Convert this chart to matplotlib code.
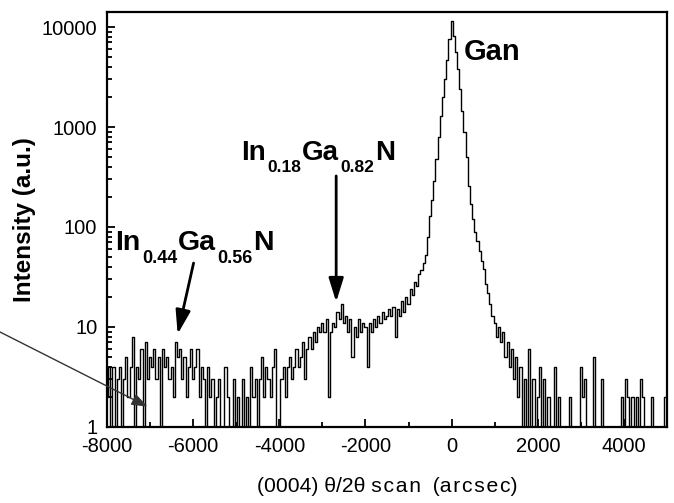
import numpy as np
import matplotlib
matplotlib.use("Agg")
import matplotlib.pyplot as plt
from matplotlib.ticker import FixedLocator, MultipleLocator, LogLocator, NullFormatter

plt.rcParams['font.family'] = ['Liberation Sans', 'DejaVu Sans']
plt.rcParams['axes.unicode_minus'] = False

# ---------------- data ----------------
scan_step = 50  # arcsec between points

far_left_start = -8000
far_left = [2, 4, 0, 4, 1, 3, 4, 0, 3, 5, 2, 4, 8, 1, 4, 3, 6, 0, 7, 3,
            5, 4, 6, 3, 5, 0, 6, 4, 5, 3, 4, 2, 7, 5, 6, 3, 5, 2, 4, 6]

dip_start = -6000
dip = [3, 4, 6, 2, 4, 3, 1, 4, 2, 3, 0, 2, 3, 1, 0, 4, 2, 1, 0, 3,
       1, 2, 0, 3, 1, 2, 0, 4, 2, 3, 1, 3, 5, 2, 4, 3, 2, 4, 6, 1]

rise_start = -4000
rise = [0, 3, 4, 2, 4, 5, 3, 4, 6, 4, 5, 7, 3, 6, 8, 6, 9, 7, 10, 9]

plateau_start = -3000
plateau = [11, 9, 12, 2, 9, 11, 10, 14, 12, 17, 11, 13, 9, 12, 5, 10, 8, 12,
           9, 11, 10, 4, 11, 9, 12, 10, 13, 11, 14, 12, 13, 15, 13, 16, 8, 15]

shoulder_start = -1200
shoulder = [13, 18, 14, 20, 17, 24, 21, 28, 26, 34, 37, 44]

peak_start = -600
peak = [52, 80, 130, 186, 290, 480, 800, 1300, 2000, 3000, 4700, 7500, 11500,
        8200, 5600, 3800, 2400, 1450, 900, 500, 260, 170, 120, 90, 72]

tail_start = 650
tail = [58, 46, 38, 27, 22, 17, 13, 11, 8, 10, 7, 9, 5, 7, 4, 6, 3, 5, 2, 4,
        1, 3, 0, 6, 1, 3, 0, 2, 4, 0, 3, 1, 2, 0, 0, 4, 0, 2, 0, 0,
        0, 0, 2, 0, 0, 0, 0, 4, 2, 3, 0, 0, 0, 5, 0, 0, 0, 3, 0, 0,
        0, 0, 0, 0, 0, 0, 2, 0, 3, 2, 0, 2, 0, 2, 0, 3, 2, 0, 0, 0,
        2, 0, 0, 0, 0, 0, 2, 2]

segments = [(far_left_start, far_left), (dip_start, dip), (rise_start, rise),
            (plateau_start, plateau), (shoulder_start, shoulder),
            (peak_start, peak), (tail_start, tail)]

x_ticks = [-8000, -6000, -4000, -2000, 0, 2000, 4000]
x_tick_labels = ['-8000', '-6000', '-4000', '-2000', '0', '2000', '4000']
y_ticks = [1, 10, 100, 1000, 10000]
y_tick_labels = ['1', '10', '100', '1000', '10000']

HS = '\u200a'
x_label = '(0004) θ/2θ ' + HS.join('scan') + '  (' + HS.join('arcsec') + ')'
y_label = 'Intensity (a.u.)'

# annotations: (parts, x, y)
gan_label = ('Gan', 286, 4680)
ingan18 = (['In', '0.18', 'Ga', '0.82', 'N'], -4877, 468)
ingan44 = (['In', '0.44', 'Ga', '0.56', 'N'], -7800, 59)
arrow18 = ((-2680, 324), (-2680, 17.8))
arrow44 = ((-5990, 43.6), (-6360, 8.5))
arrow_left_tip = (-7060, 1.6)

# ---------------- figure ----------------
W, H = 674, 503
fig = plt.figure(figsize=(W / 100, H / 100), dpi=100)
ax = fig.add_axes([107 / W, 1 - 427 / H, (667 - 107) / W, (427 - 12) / H])

xs = np.concatenate([s + scan_step * np.arange(len(v)) for s, v in segments])
ys = np.concatenate([np.asarray(v, dtype=float) for s, v in segments])

ax.plot(xs, ys, color='black', lw=1.0, drawstyle='steps-mid')
ax.set_yscale('log', nonpositive='clip')
ax.set_xlim(-8000, 5000)
ax.set_ylim(1, 10 ** 4.15)

ax.xaxis.set_major_locator(FixedLocator(x_ticks))
ax.set_xticklabels(x_tick_labels)
ax.xaxis.set_minor_locator(MultipleLocator(1000))
ax.yaxis.set_major_locator(FixedLocator(y_ticks))
ax.set_yticklabels(y_tick_labels)
ax.yaxis.set_minor_locator(LogLocator(base=10, subs=range(2, 10)))
ax.yaxis.set_minor_formatter(NullFormatter())

ax.tick_params(which='both', direction='in', top=False, right=False, width=1.3)
ax.tick_params(which='major', length=6, labelsize=14.5, pad=7)
ax.tick_params(which='minor', length=3.5)
for sp in ax.spines.values():
    sp.set_linewidth(1.6)

ax.set_xlabel(x_label, fontsize=15.2, labelpad=15)
ax.set_ylabel(y_label, fontsize=17.5, fontweight='bold', labelpad=4)

# Gan label
ax.text(gan_label[1], gan_label[2], gan_label[0], fontsize=21, fontweight='bold',
        ha='left', va='baseline')


def chem(parts, x, y, big=20, small=12.5, dy=4.5):
    first = ax.text(x, y, parts[0], fontsize=big, fontweight='bold',
                    ha='left', va='baseline')
    prev = first
    for i, p in enumerate(parts[1:], 1):
        if i % 2 == 1:
            prev = ax.annotate(p, xy=(1, 0), xycoords=(prev, first),
                               xytext=(1, dy), textcoords='offset points',
                               fontsize=small, fontweight='bold', va='top', ha='left')
        else:
            prev = ax.annotate(p, xy=(1, 0), xycoords=(prev, first),
                               xytext=(0.5, 0), textcoords='offset points',
                               fontsize=big, fontweight='bold', va='bottom', ha='left')


chem(*ingan18)
chem(*ingan44, big=20.5, small=13)

arrow_kw = dict(arrowstyle='-|>,head_length=0.9,head_width=0.28', lw=2,
                color='black', shrinkA=0, shrinkB=0, mutation_scale=16)
ax.annotate('', xy=arrow18[1], xytext=arrow18[0], arrowprops=arrow_kw)
ax.annotate('', xy=arrow44[1], xytext=arrow44[0], arrowprops=arrow_kw)
ax.annotate('', xy=arrow_left_tip, xytext=(0, 1 - 332 / H), textcoords='figure fraction',
            arrowprops=dict(arrowstyle='-|>,head_length=0.8,head_width=0.3', lw=1,
                            color='#333333', shrinkA=0, shrinkB=0, mutation_scale=12),
            annotation_clip=False)

fig.savefig('out.png', dpi=100)
